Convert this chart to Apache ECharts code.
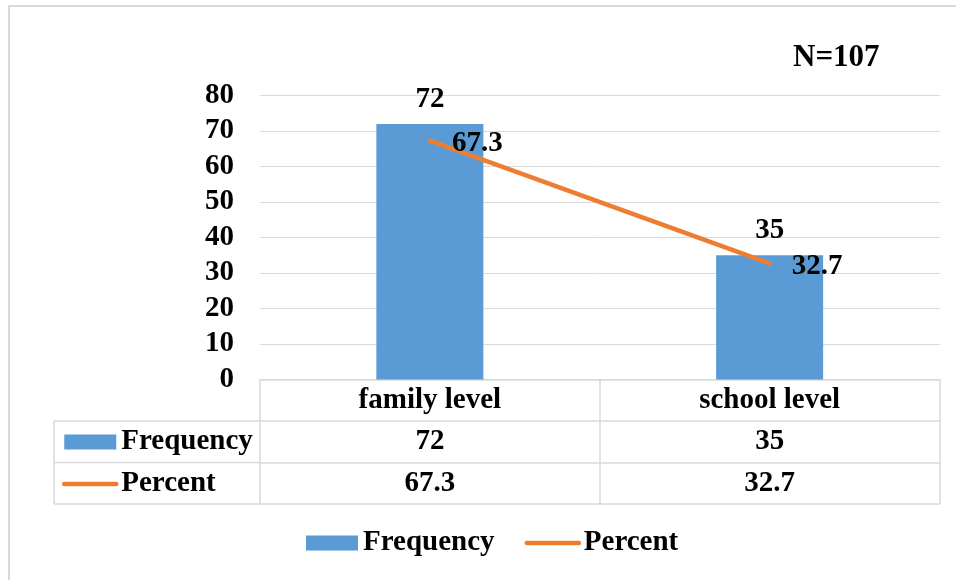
<!DOCTYPE html>
<html><head><meta charset="utf-8">
<script src="https://cdn.jsdelivr.net/npm/echarts@6/dist/echarts.min.js"></script>
<style>html,body{margin:0;padding:0;background:#fff}#c{width:956px;height:580px}</style>
</head><body><div id="c"></div>
<script>
// ---- data ----
const categories = ['family level', 'school level'];
const frequency = [72, 35];
const percent = [67.3, 32.7];
const seriesNames = ['Frequency', 'Percent'];
const yMin = 0, yMax = 80, yInterval = 10;
const note = 'N=107';

// ---- layout / style ----
const FONT = '"Liberation Serif", "Times New Roman", serif';
const BLUE = '#5B9BD5', ORANGE = '#ED7D31', LINE = '#D9D9D9';
const G_LEFT = 260, G_RIGHT_X = 939.5, G_TOP = 95.5, G_BOTTOM_Y = 379.5;
const ROW = 41.5, HEAD_LEFT = 54;
const txt = { fontFamily: FONT, fontWeight: 'bold', fontSize: 29, color: '#000' };

const chart = echarts.init(document.getElementById('c'), null, { renderer: 'canvas' });

function rowAxis(idx, data, showLabel) {
  return {
    type: 'category', gridIndex: 0, position: 'bottom', offset: ROW * idx,
    data: data, boundaryGap: true,
    axisLine: { show: true, lineStyle: { color: LINE, width: 1.5 } },
    axisTick: { show: false },
    axisLabel: Object.assign({ show: showLabel, interval: 0, margin: 6, lineHeight: 30 }, txt),
    splitLine: { show: false }
  };
}

const tableLines = [];
for (let i = 1; i <= 3; i++) {
  tableLines.push({ type: 'line', silent: true,
    shape: { x1: HEAD_LEFT, y1: G_BOTTOM_Y + ROW * i, x2: G_LEFT, y2: G_BOTTOM_Y + ROW * i },
    style: { stroke: LINE, lineWidth: 1.5 } });
}
tableLines.push({ type: 'line', silent: true,
  shape: { x1: HEAD_LEFT, y1: G_BOTTOM_Y + ROW, x2: HEAD_LEFT, y2: G_BOTTOM_Y + ROW * 3 },
  style: { stroke: LINE, lineWidth: 1.5 } });
tableLines.push({ type: 'rect', silent: true, shape: { x: 9, y: 6, width: 1200, height: 1200 },
  style: { fill: 'none', stroke: LINE, lineWidth: 2 } });

const legendTxt = Object.assign({}, txt, { lineHeight: 30 });
const legendData = [
  { name: seriesNames[0], icon: 'rect' },
  { name: seriesNames[1], itemStyle: { opacity: 0 } }
];
const legendLine = { width: 4.5, cap: 'round', color: ORANGE };

chart.setOption({
  animation: false,
  backgroundColor: '#fff',
  title: { text: note, left: 793, top: 42, padding: 0,
    textStyle: { fontFamily: FONT, fontWeight: 'bold', fontSize: 31, color: '#000' } },
  grid: { left: G_LEFT, top: G_TOP, width: G_RIGHT_X - G_LEFT, height: G_BOTTOM_Y - G_TOP, containLabel: false },
  legend: [
    { data: legendData, left: 306, top: 528, padding: 0, itemWidth: 52, itemHeight: 15, itemGap: 30,
      selectedMode: false, textStyle: legendTxt, lineStyle: legendLine },
    { data: legendData, orient: 'vertical', left: 62, top: 427, padding: 0, itemWidth: 52, itemHeight: 15,
      itemGap: 12, selectedMode: false, textStyle: legendTxt, lineStyle: legendLine }
  ],
  xAxis: [
    {
      type: 'category', data: categories, boundaryGap: true,
      axisLine: { show: true, lineStyle: { color: LINE, width: 1.5 } },
      axisTick: { show: true, interval: 0, length: ROW * 3, lineStyle: { color: LINE, width: 1.5 } },
      axisLabel: Object.assign({ interval: 0, margin: 6, lineHeight: 30 }, txt),
      splitLine: { show: false }
    },
    rowAxis(1, frequency.map(String), true),
    rowAxis(2, percent.map(String), true),
    rowAxis(3, categories, false)
  ],
  yAxis: {
    type: 'value', min: yMin, max: yMax, interval: yInterval,
    axisLine: { show: false }, axisTick: { show: false },
    axisLabel: Object.assign({ margin: 26 }, txt),
    splitLine: { show: true, lineStyle: { color: LINE, width: 1 } }
  },
  series: [
    {
      name: seriesNames[0], type: 'bar', data: frequency, barWidth: '31.5%',
      itemStyle: { color: BLUE },
      label: Object.assign({ show: true, position: 'top', distance: 10 }, txt)
    },
    {
      name: seriesNames[1], type: 'line', data: percent,
      symbol: 'circle', symbolSize: 2, showSymbol: true,
      itemStyle: { color: ORANGE },
      lineStyle: { color: ORANGE, width: 4.5, cap: 'round' },
      label: Object.assign({ show: true, position: 'right', distance: 21, offset: [0, 3] }, txt)
    }
  ],
  graphic: tableLines
});
</script></body></html>
